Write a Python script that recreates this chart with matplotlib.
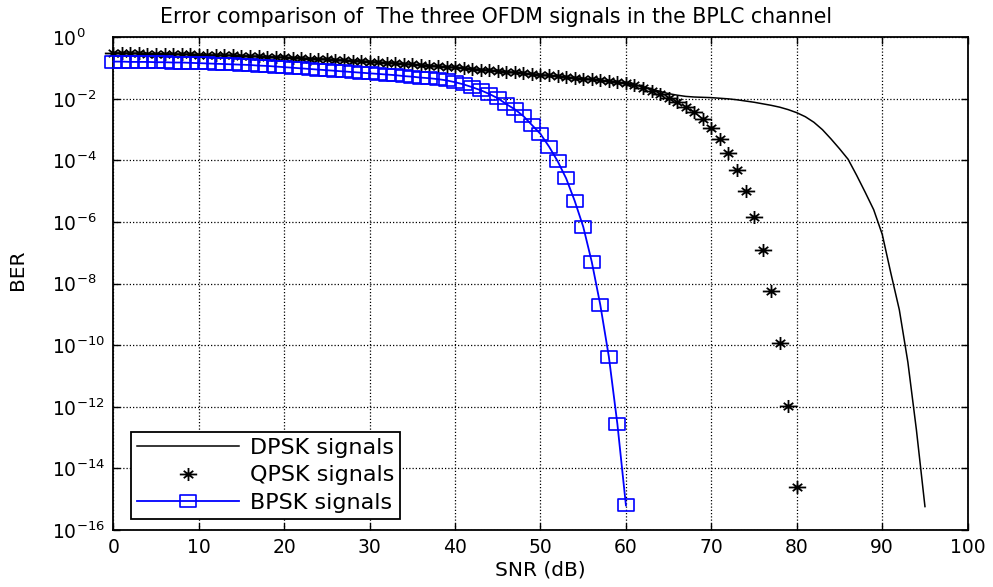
import numpy as np
import matplotlib
matplotlib.use("Agg")
import matplotlib.pyplot as plt
from matplotlib.path import Path

plt.rcParams['font.family'] = ['DejaVu Sans']
plt.rcParams['mathtext.fontset'] = 'dejavusans'

# ---------------- data (BER given as log10 values) -------------
snr_dpsk = list(range(0, 96))
snr_qpsk = list(range(0, 81))
snr_bpsk = list(range(0, 61))

qpsk_log10 = [
    -0.51, -0.51, -0.52, -0.52, -0.53, -0.53, -0.54, -0.54, -0.55, -0.55, -0.56,
    -0.57, -0.58, -0.58, -0.59, -0.60, -0.61, -0.62, -0.63, -0.64, -0.65,
    -0.66, -0.67, -0.69, -0.70, -0.71, -0.73, -0.74, -0.76, -0.77, -0.79,
    -0.81, -0.82, -0.84, -0.86, -0.88, -0.90, -0.92, -0.94, -0.96, -0.98,
    -1.00, -1.02, -1.05, -1.07, -1.09, -1.12, -1.14, -1.17, -1.19, -1.22,
    -1.24, -1.27, -1.29, -1.32, -1.34, -1.37, -1.40, -1.43, -1.46, -1.49,
    -1.56, -1.64, -1.74, -1.85, -1.96, -2.09, -2.27, -2.44, -2.65, -2.95,
    -3.31, -3.75, -4.30, -5.00, -5.83, -6.92, -8.24, -9.92, -11.97, -14.59,
]

dpsk_log10 = [
    -0.51, -0.51, -0.52, -0.52, -0.53, -0.53, -0.54, -0.54, -0.55, -0.55, -0.56,
    -0.57, -0.58, -0.58, -0.59, -0.60, -0.61, -0.62, -0.63, -0.64, -0.65,
    -0.66, -0.67, -0.69, -0.70, -0.71, -0.73, -0.74, -0.76, -0.77, -0.79,
    -0.81, -0.82, -0.84, -0.86, -0.88, -0.90, -0.92, -0.94, -0.96, -0.98,
    -1.00, -1.02, -1.05, -1.07, -1.09, -1.12, -1.14, -1.17, -1.19, -1.22,
    -1.24, -1.27, -1.29, -1.32, -1.34, -1.37, -1.40, -1.43, -1.46, -1.50,
    -1.55, -1.61, -1.68, -1.76, -1.83, -1.88, -1.92, -1.94, -1.95, -1.96,
    -1.98, -2.00, -2.03, -2.07, -2.11, -2.16, -2.21, -2.27, -2.35, -2.45,
    -2.58, -2.76, -3.00, -3.30, -3.62, -3.96, -4.48, -5.03, -5.60, -6.40,
    -7.65, -8.85, -10.55, -12.75, -15.24,
]

bpsk_log10 = [
    -0.79, -0.79, -0.80, -0.80, -0.80, -0.81, -0.81, -0.82, -0.82, -0.83, -0.84,
    -0.85, -0.86, -0.87, -0.88, -0.89, -0.90, -0.92, -0.93, -0.95, -0.97,
    -0.99, -1.01, -1.03, -1.05, -1.07, -1.09, -1.11, -1.13, -1.15, -1.17,
    -1.19, -1.21, -1.23, -1.26, -1.28, -1.31, -1.33, -1.36, -1.40, -1.46,
    -1.53, -1.62, -1.72, -1.84, -1.98, -2.17, -2.34, -2.56, -2.85, -3.14,
    -3.55, -4.02, -4.58, -5.31, -6.15, -7.29, -8.69, -10.37, -12.56, -15.20,
]

labels = ["DPSK signals", "QPSK signals", "BPSK signals"]
title = "Error comparison of  The three OFDM signals in the BPLC channel"
xlabel = "SNR (dB)"
ylabel = "BER"
xticks = [0, 10, 20, 30, 40, 50, 60, 70, 80, 90, 100]
ytick_exps = [0, -2, -4, -6, -8, -10, -12, -14, -16]

# ---------------- markers (MATLAB-like, stretched as in the picture) ----------------
sq_verts = [(-1, -0.70), (1, -0.70), (1, 0.70), (-1, 0.70), (-1, -0.70)]
sq_codes = [Path.MOVETO, Path.LINETO, Path.LINETO, Path.LINETO, Path.CLOSEPOLY]
square_marker = Path(sq_verts, sq_codes)

ast_verts = [(-1, 0), (1, 0), (0, -0.75), (0, 0.75),
             (-0.55, -0.42), (0.55, 0.42), (-0.55, 0.42), (0.55, -0.42)]
ast_codes = [Path.MOVETO, Path.LINETO] * 4
asterisk_marker = Path(ast_verts, ast_codes)

fig = plt.figure(figsize=(9.93, 5.87), dpi=100)
ax = fig.add_axes([0.1141, 0.0971, 0.8604, 0.8394])

ax.semilogy(snr_dpsk, 10.0 ** np.array(dpsk_log10), color='black', lw=1.1,
            label=labels[0], zorder=3)
ax.semilogy(snr_qpsk, 10.0 ** np.array(qpsk_log10), linestyle='none',
            marker=asterisk_marker, ms=12.5, mec='black', mew=1.3,
            label=labels[1], clip_on=False, zorder=4)
ax.semilogy(snr_bpsk, 10.0 ** np.array(bpsk_log10), color=(0, 0, 1), lw=1.3,
            marker=square_marker, ms=11.5, mfc='none', mec=(0, 0, 1), mew=1.2,
            label=labels[2], clip_on=False, zorder=5)

ax.set_xlim(0, 100)
ax.set_ylim(1e-16, 1e0)
ax.set_xticks(xticks)
ax.set_xticklabels([str(t) for t in xticks])
ax.set_yticks([10.0 ** e for e in ytick_exps])
ax.set_yticklabels([r'$\mathregular{10^{%d}}$' % e for e in ytick_exps])
ax.yaxis.set_minor_locator(matplotlib.ticker.NullLocator())

ax.tick_params(axis='both', which='major', direction='in', length=5, width=1.0,
               top=True, right=True, labelsize=13.5, colors='black')
ax.tick_params(axis='x', pad=6)
ax.tick_params(axis='y', pad=44)
for lab in ax.get_yticklabels():
    lab.set_horizontalalignment('left')

ax.grid(True, which='major', color='black', linestyle=(0, (1, 1.6)), linewidth=0.9)
ax.set_axisbelow(True)
for sp in ax.spines.values():
    sp.set_linewidth(1.3)
    sp.set_color('black')

ax.set_title(title, fontsize=14.8, pad=10.5, x=0.4485)
ax.set_xlabel(xlabel, fontsize=14.5, labelpad=2)
ax.set_ylabel(ylabel, fontsize=14.5, labelpad=18, y=0.528)

leg = ax.legend(loc='lower left', bbox_to_anchor=(0.0203, 0.0223), borderaxespad=0,
                fontsize=16, numpoints=1, handlelength=4.6, labelspacing=0.34,
                fancybox=False, edgecolor='black', framealpha=1, borderpad=0.27,
                handletextpad=0.5)
leg.get_frame().set_linewidth(1.3)

fig.savefig('out.png', dpi=100)
